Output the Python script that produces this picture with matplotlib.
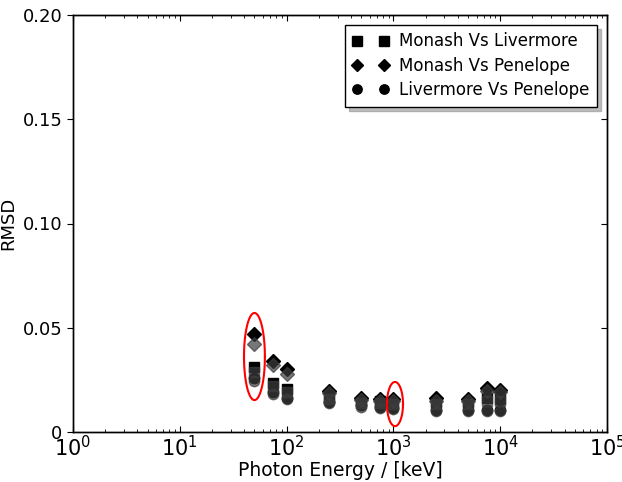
import numpy as np
import matplotlib
matplotlib.use("Agg")
import matplotlib.pyplot as plt
from matplotlib.ticker import FixedLocator, FixedFormatter, LogLocator

# Photonenergien (keV)
energy = [50, 75, 100, 250, 500, 750, 1000, 2500, 5000, 7500, 10000]

# RMSD, schwarze Serie
mon_liv = [0.031, 0.0235, 0.0205, 0.017, 0.015, 0.0148, 0.0143, 0.0143, 0.0142, 0.0162, 0.0158]
mon_pen = [0.047, 0.034, 0.030, 0.0195, 0.0165, 0.016, 0.016, 0.0162, 0.0158, 0.021, 0.020]
liv_pen = [0.026, 0.019, 0.0165, 0.0145, 0.013, 0.0122, 0.0113, 0.0105, 0.0105, 0.0105, 0.0105]

# RMSD, graue Serie
mon_liv_g = [0.029, 0.022, 0.019, 0.016, 0.014, 0.0138, 0.0135, 0.0135, 0.0135, 0.015, 0.015]
mon_pen_g = [0.042, 0.032, 0.028, 0.0185, 0.0155, 0.015, 0.015, 0.015, 0.015, 0.0195, 0.019]
liv_pen_g = [0.0243, 0.018, 0.0158, 0.014, 0.0122, 0.0115, 0.0108, 0.0102, 0.0102, 0.0102, 0.0102]

labels = ["Monash Vs Livermore", "Monash Vs Penelope", "Livermore Vs Penelope"]

# markierte Bereiche (Mitte x, Mitte y, halbe Breite in Dekaden, halbe Hoehe)
ellipses = [(50, 0.0362, 0.098, 0.0209), (1035, 0.0134, 0.075, 0.0106)]

plt.rcParams['font.family'] = ['DejaVu Sans']
fig = plt.figure(figsize=(6.22, 4.82), dpi=100)
ax = fig.add_axes([73/622, 1-432/482, (607-73)/622, (432-15)/482])

ms = 7.5
ax.plot(energy, mon_liv, 's', color='black', markersize=ms, mec='black', label=labels[0])
ax.plot(energy, mon_pen, 'D', color='black', markersize=ms - 0.5, mec='black', label=labels[1])
ax.plot(energy, liv_pen, 'o', color='black', markersize=ms, mec='black', label=labels[2])

gc = '0.24'
ax.plot(energy, mon_liv_g, 's', color=gc, mec=gc, alpha=0.7, markersize=ms)
ax.plot(energy, mon_pen_g, 'D', color=gc, mec=gc, alpha=0.7, markersize=ms - 0.5)
ax.plot(energy, liv_pen_g, 'o', color=gc, mec=gc, alpha=0.7, markersize=ms)

t = np.linspace(0, 2*np.pi, 200)
for xc, yc, a, b in ellipses:
    ax.plot(10**(np.log10(xc) + a*np.cos(t)), yc + b*np.sin(t), color='red', lw=1.5)

ax.set_xscale('log')
ax.set_xlim(1, 1e5)
ax.set_ylim(0, 0.2)
ax.set_xlabel('Photon Energy / [keV]', fontsize=13.5, labelpad=1)
ax.set_ylabel('RMSD', fontsize=13, labelpad=4)

ax.xaxis.set_major_locator(LogLocator(base=10, numticks=10))
ax.xaxis.set_minor_locator(LogLocator(base=10, subs=np.arange(2, 10), numticks=50))
ax.tick_params(axis='x', which='major', direction='in', top=True, length=4, labelsize=15, pad=2)
ax.tick_params(axis='x', which='minor', direction='in', top=True, length=2)

yt = [0, 0.05, 0.10, 0.15, 0.20]
ax.yaxis.set_major_locator(FixedLocator(yt))
ax.yaxis.set_major_formatter(FixedFormatter(["0", "0.05", "0.10", "0.15", "0.20"]))
ax.tick_params(axis='y', direction='out', length=4, labelsize=13, right=False)

ax2 = ax.twinx()
ax2.set_ylim(0, 0.2)
ax2.yaxis.set_major_locator(FixedLocator(yt))
ax2.tick_params(axis='y', direction='in', length=4, labelright=False)

for a_ in (ax, ax2):
    for s in a_.spines.values():
        s.set_linewidth(1.0)

leg = ax.legend(loc='upper right', numpoints=2, shadow={'ox': 3, 'oy': -3, 'color': '0.5'},
                fancybox=False, fontsize=12, handletextpad=0.6, borderpad=0.45,
                labelspacing=0.38, handlelength=2.2, edgecolor='black', framealpha=1,
                markerscale=0.9, borderaxespad=0.6)
leg.get_frame().set_linewidth(1.0)

fig.savefig('out.png', dpi=100)
